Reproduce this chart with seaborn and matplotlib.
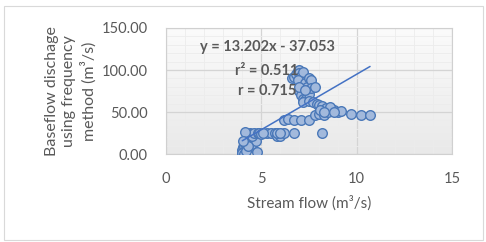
import numpy as np
import pandas as pd
import matplotlib
matplotlib.use("Agg")
import matplotlib.pyplot as plt
import seaborn as sns
from matplotlib.patches import Rectangle

# Stream flow (m3/s) vs baseflow discharge (m3/s)
stream_flow = [
    4.0, 4.0, 4.05, 4.1, 4.1, 4.15, 4.2, 4.2, 4.25, 4.3, 4.3, 4.35, 4.4, 4.45, 4.5,
    4.6, 4.7, 4.75, 4.0, 4.1, 4.2, 4.3, 4.4, 4.5, 4.6, 4.8, 4.9, 5.0, 4.15, 4.05,
    5.3, 5.5, 5.7, 5.8, 5.9, 6.0, 6.2, 6.7, 5.1, 5.8, 6.0,
    6.2, 6.4, 6.7, 7.1, 7.5, 7.8, 8.0, 8.3, 8.5, 8.8, 9.0, 9.2, 9.7, 10.2, 10.7,
    6.6, 6.7, 6.8, 6.9, 7.0, 7.0, 7.1, 7.2, 6.9, 7.3, 7.4, 7.5, 7.6, 7.0, 7.1,
    7.2, 7.3, 7.4, 7.5, 7.6, 7.8, 7.2, 7.5, 7.7, 7.9, 8.0, 8.2, 8.4, 8.6, 8.8,
    8.1, 8.3, 7.0, 7.3, 8.2,
]
baseflow = [
    2, 5, 8, 10, 14, 3, 6, 12, 18, 15, 22, 8, 25, 20, 12,
    18, 15, 2, 1, 0, 4, 9, 24, 22, 25, 25, 25, 24, 26, 16,
    25, 25, 25, 21, 25, 22, 25, 25, 25, 25, 25,
    41, 42, 41, 41, 41, 46, 48, 46, 50, 52, 50, 51, 48, 46, 46,
    90, 92, 95, 99, 100, 96, 93, 98, 88, 85, 80, 90, 88, 75, 70,
    66, 64, 68, 72, 78, 80, 62, 63, 62, 60, 58, 57, 55, 56, 50,
    52, 50, 80, 76, 25,
]

# Linear trendline shown on the chart
slope = 13.202
intercept = -37.053
equation_text = "y = 13.202x - 37.053"
r2_text = "r² = 0.511"
r_text = "r = 0.715"

df = pd.DataFrame({"stream": stream_flow, "base": baseflow})
fit_x = [min(stream_flow), max(stream_flow)]
fit = pd.DataFrame({"x": fit_x, "y": [slope * v + intercept for v in fit_x]})

sns.set_style("white")
plt.rcParams["font.family"] = ["Lato", "DejaVu Sans"]

fig = plt.figure(figsize=(4.86, 2.42), dpi=100)
ax = fig.add_axes([0.3416, 0.3636, 0.5885, 0.5207])

# subtle vertical gradient background in plot area
grad = np.linspace(0, 1, 256).reshape(-1, 1)
ax.imshow(grad, extent=[0, 1, 0, 1], transform=ax.transAxes, aspect="auto",
          cmap=matplotlib.colors.LinearSegmentedColormap.from_list("bg", ["#e9e9e9", "#fbfbfb"]),
          origin="lower", zorder=0)

sns.scatterplot(data=df, x="stream", y="base", ax=ax, s=48,
                color="#a2b9dc", edgecolor="#4a78b8", linewidth=1.0, zorder=3)
sns.lineplot(data=fit, x="x", y="y", ax=ax, color="#4472c4", linewidth=1.1, zorder=4)

ax.set_xlim(0, 15)
ax.set_ylim(0, 150)
ax.set_xticks([0, 5, 10, 15])
ax.set_yticks([0, 50, 100, 150])
ax.set_yticklabels(["0.00", "50.00", "100.00", "150.00"])
ax.set_xticks(np.arange(0, 16, 1), minor=True)
ax.set_yticks(np.arange(0, 151, 10), minor=True)
ax.grid(True, which="major", color="#d4d4d4", linewidth=0.9, zorder=1)
ax.grid(True, which="minor", color="#ececec", linewidth=0.6, zorder=1)
ax.set_axisbelow(True)
ax.tick_params(which="both", length=0, labelsize=10.5, colors="#595959")
ax.tick_params(axis="x", pad=13)
ax.tick_params(axis="y", pad=13)
for sp in ax.spines.values():
    sp.set_color("#d0d0d0")
    sp.set_linewidth(0.8)

ax.set_xlabel("Stream flow (m³/s)", fontsize=11, color="#595959", labelpad=7)
ax.set_ylabel("Baseflow dischage\nusing frequency\nmethod (m³/s)", fontsize=11.5,
              color="#595959", linespacing=1.3, labelpad=4)

ax.text(5.3, 127, equation_text, ha="center", va="center", fontsize=10.5,
        fontweight="bold", color="#595959", zorder=5)
ax.text(5.3, 99, r2_text, ha="center", va="center", fontsize=10.5,
        fontweight="bold", color="#595959", zorder=5)
ax.text(5.3, 75, r_text, ha="center", va="center", fontsize=10.5,
        fontweight="bold", color="#595959", zorder=5)

fig.patches.append(Rectangle((0.008, 0.01), 0.985, 0.965, transform=fig.transFigure,
                             fill=False, edgecolor="#d9d9d9", linewidth=0.8))

fig.savefig("out.png", dpi=100)
